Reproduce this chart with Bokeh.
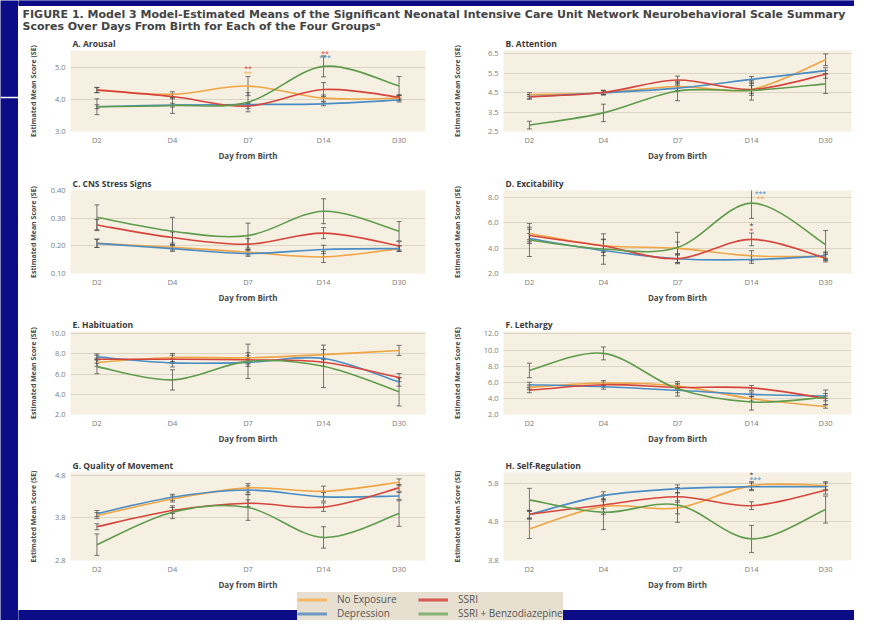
from bokeh.plotting import figure
from bokeh.models import (Range1d, FixedTicker, PrintfTickFormatter, Whisker, ColumnDataSource,
                          Label, Legend, LegendItem, TeeHead)
from bokeh.layouts import row, column
from bokeh.embed import file_html
from bokeh.resources import INLINE
from bokeh.core.properties import value

# ---------------- data ----------------
days = ["D2", "D4", "D7", "D14", "D30"]
groups = ["No Exposure", "Depression", "SSRI", "SSRI + Benzodiazepine"]

# rows: No Exposure, Depression, SSRI, SSRI + Benzodiazepine
arousal_mean = [[4.30, 4.17, 4.43, 4.05, 4.05],
                [3.78, 3.83, 3.85, 3.87, 3.99],
                [4.31, 4.10, 3.80, 4.32, 4.08],
                [3.78, 3.82, 3.92, 5.05, 4.43]]
arousal_se = [[0.08, 0.08, 0.30, 0.10, 0.08],
              [0.06, 0.06, 0.06, 0.06, 0.06],
              [0.08, 0.07, 0.08, 0.22, 0.08],
              [0.25, 0.25, 0.30, 0.33, 0.30]]
arousal_ticks = [3.0, 4.0, 5.0]

attention_mean = [[4.40, 4.50, 4.82, 4.67, 6.20],
                  [4.29, 4.50, 4.74, 5.19, 5.64],
                  [4.29, 4.51, 5.16, 4.67, 5.45],
                  [2.83, 3.46, 4.59, 4.62, 4.96]]
attention_se = [[0.10, 0.10, 0.20, 0.30, 0.30],
                [0.10, 0.10, 0.15, 0.15, 0.15],
                [0.12, 0.12, 0.20, 0.20, 0.20],
                [0.20, 0.45, 0.50, 0.50, 0.50]]
attention_ticks = [2.5, 3.5, 4.5, 5.5, 6.5]

cns_mean = [[0.209, 0.195, 0.177, 0.160, 0.190],
            [0.209, 0.190, 0.172, 0.187, 0.190],
            [0.275, 0.230, 0.206, 0.246, 0.200],
            [0.303, 0.253, 0.237, 0.325, 0.253]]
cns_se = [[0.015, 0.010, 0.010, 0.020, 0.010],
          [0.015, 0.010, 0.010, 0.015, 0.010],
          [0.020, 0.020, 0.020, 0.020, 0.015],
          [0.045, 0.050, 0.045, 0.045, 0.035]]
cns_ticks = [0.10, 0.20, 0.30, 0.40]

excit_mean = [[5.16, 4.21, 3.98, 3.40, 3.33],
              [4.76, 3.81, 3.17, 3.10, 3.40],
              [5.00, 4.17, 3.17, 4.69, 3.21],
              [4.64, 3.93, 4.05, 7.55, 4.29]]
excit_se = [[0.5, 0.5, 0.5, 0.4, 0.3],
            [0.4, 0.4, 0.3, 0.3, 0.3],
            [0.5, 0.5, 0.4, 0.5, 0.3],
            [1.3, 1.2, 1.2, 1.2, 1.1]]
excit_ticks = [2.0, 4.0, 6.0, 8.0]

habit_mean = [[7.16, 7.63, 7.60, 7.92, 8.33],
              [7.69, 7.10, 7.15, 7.54, 5.20],
              [7.46, 7.46, 7.40, 7.16, 5.65],
              [6.73, 5.42, 7.25, 6.76, 4.25]]
habit_se = [[0.4, 0.4, 0.5, 0.5, 0.5],
            [0.3, 0.4, 0.4, 0.4, 0.4],
            [0.4, 0.4, 0.4, 0.4, 0.4],
            [0.7, 1.0, 1.7, 2.1, 1.4]]
habit_ticks = [2.0, 4.0, 6.0, 8.0, 10.0]

leth_mean = [[5.37, 5.90, 5.54, 3.96, 2.98],
             [5.70, 5.44, 5.00, 4.50, 4.30],
             [5.00, 5.70, 5.37, 5.30, 4.00],
             [7.47, 9.58, 5.19, 3.55, 4.14]]
leth_se = [[0.3, 0.3, 0.3, 0.3, 0.2],
           [0.3, 0.3, 0.3, 0.3, 0.3],
           [0.3, 0.3, 0.3, 0.3, 0.3],
           [0.9, 0.8, 0.9, 1.0, 0.9]]
leth_ticks = [2.0, 4.0, 6.0, 8.0, 10.0, 12.0]

qom_mean = [[3.85, 4.24, 4.50, 4.42, 4.63],
            [3.90, 4.28, 4.45, 4.29, 4.31],
            [3.59, 3.97, 4.14, 4.05, 4.50],
            [3.17, 3.93, 4.04, 3.34, 3.90]]
qom_se = [[0.07, 0.07, 0.10, 0.12, 0.08],
          [0.07, 0.07, 0.10, 0.10, 0.08],
          [0.07, 0.07, 0.08, 0.10, 0.08],
          [0.25, 0.15, 0.30, 0.25, 0.30]]
qom_ticks = [2.8, 3.8, 4.8]

selfreg_mean = [[4.62, 5.20, 5.16, 5.74, 5.74],
                [4.99, 5.48, 5.66, 5.71, 5.71],
                [5.00, 5.24, 5.45, 5.22, 5.62],
                [5.37, 5.05, 5.24, 4.36, 5.12]]
selfreg_se = [[0.25, 0.20, 0.15, 0.10, 0.10],
              [0.10, 0.10, 0.10, 0.10, 0.10],
              [0.10, 0.10, 0.10, 0.10, 0.10],
              [0.30, 0.45, 0.45, 0.35, 0.35]]
selfreg_ticks = [3.8, 4.8, 5.8]

# ---------------- style ----------------
FONT = "Open Sans"
BEIGE = "#F6F0E3"
GRID = "#DDD5C4"
NAVY = "#0C0C86"
TXT = "#3A3A3A"
TICK = "#7C7C7C"
COLORS = ["#F0A443", "#4A8CC4", "#D6443B", "#5E9C4C"]
LEG_COLORS = ["#F4B867", "#6C98C2", "#D9584F", "#86B274"]
ERR = "#4A4A4A"


def smooth(p, xs, ys, color):
    X = [xs[0]] + list(xs) + [xs[-1]]
    Y = [ys[0]] + list(ys) + [ys[-1]]
    d = {k: [] for k in ("x0", "y0", "x1", "y1", "cx0", "cy0", "cx1", "cy1")}
    for i in range(len(xs) - 1):
        a, b, c, e = i, i + 1, i + 2, i + 3
        d["x0"].append(X[b]); d["y0"].append(Y[b])
        d["x1"].append(X[c]); d["y1"].append(Y[c])
        d["cx0"].append(X[b] + (X[c] - X[a]) / 6); d["cy0"].append(Y[b] + (Y[c] - Y[a]) / 6)
        d["cx1"].append(X[c] - (X[e] - X[b]) / 6); d["cy1"].append(Y[c] - (Y[e] - Y[b]) / 6)
    p.bezier(source=ColumnDataSource(d), x0="x0", y0="y0", x1="x1", y1="y1",
             cx0="cx0", cy0="cy0", cx1="cx1", cy1="cy1", line_color=color, line_width=1.6)


def panel(title, means, ses, ticks, fmt, yr, side, rowspec, ylab_s, stars):
    top, fh, bottom = rowspec
    if side == "L":
        w, lb, rb = 422, 52, 15
    else:
        w, lb, rb = 414, 63, 3
    p = figure(width=w, height=top + fh + bottom, x_range=Range1d(-0.35, 4.35),
               y_range=Range1d(*yr), output_backend="svg", toolbar_location=None,
               title=title, min_border_left=lb, min_border_right=rb,
               min_border_top=top, min_border_bottom=bottom)
    p.background_fill_color = BEIGE
    p.border_fill_color = "white"
    p.outline_line_color = None
    p.title.text_font = FONT
    p.title.text_font_size = "8.5px"
    p.title.text_font_style = "bold"
    p.title.text_color = TXT
    p.title.align = "left"
    p.title.offset = 2
    p.title.standoff = 3

    xs = list(range(len(days)))
    p.xaxis.ticker = FixedTicker(ticks=xs)
    p.xaxis.major_label_overrides = {i: d for i, d in enumerate(days)}
    p.xaxis.axis_label = "Day from Birth"
    p.xaxis.axis_label_standoff = 2
    p.xaxis.major_label_standoff = 3
    p.yaxis.ticker = FixedTicker(ticks=ticks)
    p.yaxis.formatter = PrintfTickFormatter(format=fmt)
    p.yaxis.axis_label = "Estimated Mean Score (SE)"
    p.yaxis.axis_label_standoff = ylab_s
    p.yaxis.major_label_standoff = 5
    p.xaxis.axis_label_text_font_size = "8px"
    p.yaxis.axis_label_text_font_size = "7px"
    for ax in (p.xaxis[0], p.yaxis[0]):
        ax.axis_line_color = None
        ax.major_tick_out = 0
        ax.major_tick_in = 0
        ax.minor_tick_out = 0
        ax.minor_tick_in = 0
        ax.major_label_text_font = FONT
        ax.major_label_text_font_size = "7.5px"
        ax.major_label_text_color = TICK
        ax.axis_label_text_font = FONT
        ax.axis_label_text_font_style = "bold"
        ax.axis_label_text_color = "#4A4A4A"
    p.xgrid.grid_line_color = None
    p.ygrid.ticker = FixedTicker(ticks=ticks)
    p.ygrid.grid_line_color = GRID
    p.ygrid.grid_line_width = 1

    for m, s in zip(means, ses):
        src = ColumnDataSource(dict(x=xs, lo=[a - b for a, b in zip(m, s)],
                                    hi=[a + b for a, b in zip(m, s)]))
        wk = Whisker(base="x", lower="lo", upper="hi", source=src, dimension="height",
                     line_color=ERR, line_alpha=0.75, line_width=1,
                     upper_head=TeeHead(size=5, line_color=ERR, line_alpha=0.75, line_width=1),
                     lower_head=TeeHead(size=5, line_color=ERR, line_alpha=0.75, line_width=1))
        p.add_layout(wk)
    for m, c in zip(means, COLORS):
        smooth(p, xs, m, c)
    for (xi, yv, t, ci) in stars:
        p.add_layout(Label(x=xi, y=yv, text=t, text_color=COLORS[ci] if ci >= 0 else "#333333",
                           text_font=FONT, text_font_size="7px", text_align="center",
                           text_baseline="middle"))
    return p


R1, R2, R3, R4 = (17, 92, 21), (27, 94, 21), (26, 94, 21), (26, 98, 22)

pA = panel("A. Arousal", arousal_mean, arousal_se, arousal_ticks, "%.1f", (3.0, 5.55), "L", R1, 14,
           [(2, 4.97, "**", 2), (2, 4.84, "**", 0), (3.02, 5.47, "**", 2), (3.02, 5.32, "***", 1)])
pB = panel("B. Attention", attention_mean, attention_se, attention_ticks, "%.1f", (2.5, 6.68), "R", R1, 23, [])
pC = panel("C. CNS Stress Signs", cns_mean, cns_se, cns_ticks, "%.2f", (0.10, 0.40), "L", R2, 10, [])
pD = panel("D. Excitability", excit_mean, excit_se, excit_ticks, "%.1f", (2.0, 8.55), "R", R2, 23,
           [(3.12, 8.3, "***", 1), (3.12, 7.95, "**", 0), (3, 5.75, "*", -1), (3, 5.4, "*", 2)])
pE = panel("E. Habituation", habit_mean, habit_se, habit_ticks, "%.1f", (2.0, 10.2), "L", R3, 10, [])
pF = panel("F. Lethargy", leth_mean, leth_se, leth_ticks, "%.1f", (2.0, 12.3), "R", R3, 19, [])
pG = panel("G. Quality of Movement", qom_mean, qom_se, qom_ticks, "%.1f", (2.8, 4.86), "L", R4, 14, [])
pH = panel("H. Self-Regulation", selfreg_mean, selfreg_se, selfreg_ticks, "%.1f", (3.8, 6.08), "R", R4, 23,
           [(3, 6.02, "*", -1), (3.05, 5.91, "***", 1)])

# title
TW = 836
tf = figure(width=TW, height=33, x_range=Range1d(0, TW), y_range=Range1d(33, 0),
            output_backend="svg", toolbar_location=None, min_border=0,
            x_axis_location=None, y_axis_location=None)
tf.grid.visible = False
tf.outline_line_color = None
tf.background_fill_color = "white"
tf.border_fill_color = "white"
tf.quad(left=[0], right=[TW], top=[0], bottom=[5], color=NAVY)
title_lines = ["FIGURE 1.  Model 3 Model-Estimated Means of the Significant Neonatal Intensive Care Unit Network Neurobehavioral Scale Summary",
               "Scores Over Days From Birth for Each of the Four Groups\u1d43"]
tf.text(x=[4, 4], y=[14, 26], text=title_lines, text_font=value("DejaVu Sans"), text_font_size="11px",
        text_font_style="bold", text_color="#444444", text_baseline="middle")

# legend strip
LH = 28
lf = figure(width=TW, height=LH, x_range=Range1d(0, TW), y_range=Range1d(0, LH),
            output_backend="svg", toolbar_location=None, min_border=0,
            x_axis_location=None, y_axis_location=None)
lf.grid.visible = False
lf.outline_line_color = None
lf.background_fill_color = "white"
lf.border_fill_color = "white"
lf.quad(left=[0], right=[TW], bottom=[0], top=[10], color=NAVY)
rs = [lf.line([-100, -99], [-100, -100], line_color=c, line_width=3) for c in LEG_COLORS]
leg = Legend(items=[LegendItem(label=g, renderers=[r]) for g, r in zip(groups, rs)],
             location=(279, 0), orientation="vertical", nrows=2)
leg.background_fill_color = "#E7E0D1"
leg.background_fill_alpha = 1
leg.border_line_color = None
leg.label_text_font = FONT
leg.label_text_font_size = "10px"
leg.label_text_color = "#555555"
leg.glyph_width = 30
leg.glyph_height = 11
leg.label_height = 11
leg.label_width = 81
leg.label_standoff = 10
leg.padding = 1
leg.spacing = 0
leg.margin = 0
lf.add_layout(leg, "center")

# left navy strip
bf = figure(width=18, height=620, x_range=Range1d(0, 18), y_range=Range1d(620, 0),
            output_backend="svg", toolbar_location=None, min_border=0,
            x_axis_location=None, y_axis_location=None)
bf.grid.visible = False
bf.outline_line_color = None
bf.background_fill_color = NAVY
bf.border_fill_color = NAVY
bf.segment(x0=[0], y0=[97], x1=[18], y1=[97], line_color="white", line_width=1.5)

layout = row(bf, column(tf, row(pA, pB), row(pC, pD), row(pE, pF), row(pG, pH), lf))

open("out.html", "w").write(file_html(layout, INLINE))
